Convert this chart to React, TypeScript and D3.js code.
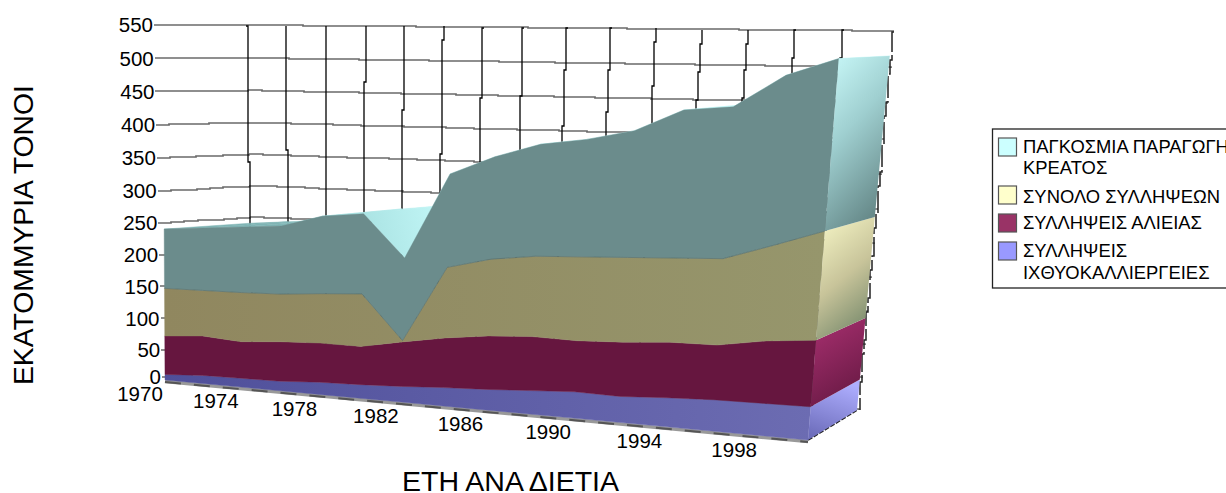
import React from "react";
import * as d3 from "d3";

// Two-yearly catches and meat production, millions of tonnes (stacked from the bottom up)
const years = [1970, 1972, 1974, 1976, 1978, 1980, 1982, 1984, 1986, 1988, 1990, 1992, 1994, 1996, 1998, 2000];
const aquaculture = [9, 13, 14, 15, 19, 21, 24, 28, 31, 35, 39, 38, 42, 45, 46, 47];
const fisheries = [62, 63, 58, 62, 61, 59, 68, 75, 80, 80, 75, 79, 80, 78, 88, 93];
const totalCatch = [76, 72, 77, 74, 76, 80, 2, 105, 113, 117, 121, 121, 119, 121, 132, 149];
const meat = [93, 97, 101, 104, 117, 120, 124, 136, 147, 159, 165, 176, 203, 206, 227, 227];

const yearLabels = [1970, 1974, 1978, 1982, 1986, 1990, 1994, 1998];
const valueTicks = [0, 50, 100, 150, 200, 250, 300, 350, 400, 450, 500, 550];
const gridValues = [250, 300, 350, 400, 450, 500, 550, 200, 150, 100, 50, 0];

const seriesKeys = ["aquaculture", "fisheries", "totalCatch", "meat"];
const legendRows = [
  { lines: ["ΠΑΓΚΟΣΜΙΑ ΠΑΡΑΓΩΓΗ", "ΚΡΕΑΤΟΣ"], swatch: "#ccffff", top: 138, textY: [146, 167] },
  { lines: ["ΣΥΝΟΛΟ ΣΥΛΛΗΨΕΩΝ"], swatch: "#ffffcc", top: 186, textY: [196] },
  { lines: ["ΣΥΛΛΗΨΕΙΣ ΑΛΙΕΙΑΣ"], swatch: "#993366", top: 214, textY: [222] },
  { lines: ["ΣΥΛΛΗΨΕΙΣ", "ΙΧΘΥΟΚΑΛΛΙΕΡΓΕΙΕΣ"], swatch: "#9999ff", top: 242, textY: [250, 272] },
];

const FONT = "'Liberation Sans', Arial, sans-serif";
const VMAX = 550;

type Pt = [number, number];

// Perspective map of the unit square onto a quad given as [bottom-left, bottom-right, top-right, top-left].
function planeMap([p0, p1, p2, p3]: Pt[]) {
  const dx1 = p1[0] - p2[0], dx2 = p3[0] - p2[0], sx = p0[0] - p1[0] + p2[0] - p3[0];
  const dy1 = p1[1] - p2[1], dy2 = p3[1] - p2[1], sy = p0[1] - p1[1] + p2[1] - p3[1];
  const det = dx1 * dy2 - dx2 * dy1;
  const g = (sx * dy2 - dx2 * sy) / det;
  const h = (dx1 * sy - sx * dy1) / det;
  const a = p1[0] - p0[0] + g * p1[0], b = p3[0] - p0[0] + h * p3[0], c = p0[0];
  const d = p1[1] - p0[1] + g * p1[1], e = p3[1] - p0[1] + h * p3[1], f = p0[1];
  return (u: number, v: number): Pt => {
    const w = g * u + h * v + 1;
    return [(a * u + b * v + c) / w, (d * u + e * v + f) / w];
  };
}

const uScale = d3.scaleLinear().domain([0, years.length - 1]).range([0, 1]);
// The back plane recedes a little more than its outline alone implies
const uBackScale = d3.scaleLinear().domain([0, 3, 7, 11, 15]).range([0, 0.2, 0.455, 0.727, 1]);
const vScale = d3.scaleLinear().domain([0, VMAX]).range([0, 1]);

const frontMap = planeMap([[165, 380], [808, 440], [841, 32], [163, 25]]);
const backMap = planeMap([[252, 368], [857, 410], [892, 31], [247, 25]]);
const front = (i: number, v: number) => frontMap(uScale(i), vScale(v));
const back = (i: number, v: number) => backMap(uBackScale(i), vScale(v));

// The axis labels sit on the near edge of the left wall
const tickY = d3.scaleLinear().domain([0, 50, 300, 550]).range([377, 350, 191, 25]);
const tickX = d3.scaleLinear().domain([0, 550]).range([165, 157]);

const rows = years.map((_, i) => ({
  aquaculture: aquaculture[i],
  fisheries: fisheries[i],
  totalCatch: totalCatch[i],
  meat: meat[i],
}));
const stacked = d3.stack<any>().keys(seriesKeys)(rows);

const poly = d3.line<Pt>().x((p) => p[0]).y((p) => p[1]);
const stepLine = d3.line<Pt>().x((p) => p[0]).y((p) => p[1]).curve(d3.curveStepAfter);

// Rasterised grid line: sampled along its length and snapped, which leaves small jogs
function jagged(a: Pt, b: Pt, snap: number) {
  const n = Math.max(2, Math.round(Math.hypot(b[0] - a[0], b[1] - a[1]) / 14));
  const pts = d3.range(n + 1).map((k): Pt => {
    const t = k / n;
    const x = a[0] + (b[0] - a[0]) * t;
    const y = a[1] + (b[1] - a[1]) * t;
    return [Math.round(x / snap) * snap, Math.round(y / snap) * snap];
  });
  return stepLine(pts) as string;
}

const frontStyle = [
  { fill: "url(#fPurple)" },
  { fill: "#66163f" },
  { fill: "url(#fKhaki)" },
  { fill: "#6b8c8c" },
];
const sideStyle = ["url(#sPurple)", "url(#sMaroon)", "url(#sKhaki)", "url(#sTeal)"];

export default function App() {
  const n = years.length;
  const topLayer = stacked[stacked.length - 1];
  const strips = d3.range(n - 1).map((i) => [
    front(i, topLayer[i][1]),
    front(i + 1, topLayer[i + 1][1]),
    back(i + 1, topLayer[i + 1][1]),
    back(i, topLayer[i][1]),
  ] as Pt[]);

  return (
    <svg width={1226} height={493} style={{ position: "absolute", left: 0, top: 0, display: "block", background: "#fff" }} fontFamily={FONT}>
      <defs>
        <linearGradient id="topGrad" gradientUnits="userSpaceOnUse" x1="430" y1="200" x2="280" y2="235">
          <stop offset="0" stopColor="#bff4f4" />
          <stop offset="0.55" stopColor="#a6e0e0" />
          <stop offset="1" stopColor="#7fb4b4" />
        </linearGradient>
        <linearGradient id="fPurple" x1="0" x2="1" y1="0" y2="0">
          <stop offset="0" stopColor="#4f4f9a" />
          <stop offset="1" stopColor="#6c6cb2" />
        </linearGradient>
        <linearGradient id="fKhaki" x1="0" x2="1" y1="0" y2="0">
          <stop offset="0" stopColor="#90875f" />
          <stop offset="1" stopColor="#96966c" />
        </linearGradient>
        <linearGradient id="sTeal" x1="0.1" y1="0" x2="0.5" y2="1">
          <stop offset="0" stopColor="#c8f8f8" />
          <stop offset="0.45" stopColor="#9fcfd0" />
          <stop offset="1" stopColor="#678a8a" />
        </linearGradient>
        <linearGradient id="sKhaki" x1="0.1" y1="0" x2="0.5" y2="1">
          <stop offset="0" stopColor="#f6f6c6" />
          <stop offset="0.55" stopColor="#c8c49a" />
          <stop offset="1" stopColor="#7f8f70" />
        </linearGradient>
        <linearGradient id="sMaroon" x1="0.1" y1="0" x2="0.5" y2="1">
          <stop offset="0" stopColor="#a83070" />
          <stop offset="1" stopColor="#6a1a45" />
        </linearGradient>
        <linearGradient id="sPurple" x1="0.6" y1="0" x2="0.3" y2="1">
          <stop offset="0" stopColor="#aeaeff" />
          <stop offset="1" stopColor="#6d6dbb" />
        </linearGradient>
      </defs>

      {/* Left wall and back wall grid */}
      <g fill="none" stroke="#6a6a6a" strokeWidth={1.7}>
        {gridValues.map((v) => {
          const corner = back(0, v);
          const rightEnd = back(n - 1, v);
          return (
            <g key={v}>
              <path d={jagged([tickX(v) - 3, tickY(v)], corner, 1)} />
              <path d={jagged(corner, [rightEnd[0] + 2, rightEnd[1]], 1)} />
            </g>
          );
        })}
      </g>
      <g fill="none" stroke="#000" strokeWidth={1.3}>
        {d3.range(0, n - 1).map((i) => (
          <path key={i} d={jagged(back(i, 550), back(i, 0), 2)} />
        ))}
      </g>
      {/* Right edge of the back wall */}
      <path
        d={jagged([back(n - 1, 550)[0] + 2, back(n - 1, 550)[1]], [back(n - 1, 0)[0] + 2, back(n - 1, 0)[1]], 2)}
        fill="none" stroke="#222" strokeWidth={1.5} strokeDasharray="22 3"
      />

      {/* Upper surface of the top band, seen where it rises towards the back */}
      {strips.map((s, i) => (
        <path key={i} d={(poly(s) as string) + "Z"} fill="url(#topGrad)" stroke="url(#topGrad)" strokeWidth={0.5} />
      ))}

      {/* Floor edges */}
      <path d={poly([front(0, 0), front(n - 1, 0)].map((p): Pt => [p[0], p[1] + 1.5])) as string} stroke="#999" strokeWidth={3.5} fill="none" />
      <path d={poly([front(0, 0), front(n - 1, 0)].map((p): Pt => [p[0], p[1] + 2])) as string} stroke="#555" strokeWidth={2} fill="none" strokeDasharray="16 13" />
      <path d={poly([front(n - 1, 0), back(n - 1, 0)]) as string} stroke="#222" strokeWidth={2} fill="none" strokeDasharray="5 1.5" />

      {/* Front faces of the stacked bands */}
      {stacked.map((layer, k) => {
        const upper = layer.map((d, i) => front(i, d[1]));
        const lower = layer.map((d, i) => front(i, d[0])).reverse();
        return (
          <path key={k} d={(poly([...upper, ...lower]) as string) + "Z"} fill={frontStyle[k].fill} stroke={frontStyle[k].fill} strokeWidth={0.4} />
        );
      })}
      {/* Seam between the catch total and the meat band */}
      <path d={poly(stacked[2].map((d, i) => front(i, d[1]))) as string} fill="none" stroke="#4f6460" strokeWidth={0.7} opacity={0.7} />

      {/* Right-hand end faces */}
      {stacked.map((layer, k) => {
        const d = layer[n - 1];
        const q: Pt[] = [front(n - 1, d[0]), back(n - 1, d[0]), back(n - 1, d[1]), front(n - 1, d[1])];
        return <path key={k} d={(poly(q) as string) + "Z"} fill={sideStyle[k]} />;
      })}

      {/* Value axis */}
      <g fontSize={20.5} fill="#000" textAnchor="end">
        {valueTicks.map((v) => (
          <text key={v} x={tickX(v) - 4} y={tickY(v)} dy="0.36em">{v}</text>
        ))}
      </g>
      {/* Year axis */}
      <g fontSize={20.5} fill="#000" textAnchor="middle">
        {yearLabels.map((y) => {
          const p = front(years.indexOf(y), 0);
          return <text key={y} x={p[0] - 25} y={p[1] + 14} dy="0.36em">{y}</text>;
        })}
      </g>

      <text x={402} y={491} fontSize={28.5} fill="#000">ΕΤΗ ΑΝΑ ΔΙΕΤΙΑ</text>
      <text transform="translate(33,385) rotate(-90)" fontSize={28.3} fill="#000">ΕΚΑΤΟΜΜΥΡΙΑ ΤΟΝΟΙ</text>

      {/* Legend, running off the right-hand side */}
      <rect x={992.5} y={129} width={260} height={159} fill="#fff" stroke="#222" strokeWidth={1.3} />
      {legendRows.map((row) => (
        <g key={row.lines[0]}>
          <rect x={998.5} y={row.top} width={18} height={18} fill={row.swatch} stroke="#555" strokeWidth={1.2} />
          {row.lines.map((line, j) => (
            <text key={line} x={1023} y={row.textY[j]} dy="0.36em" fontSize={18.4} fill="#000">{line}</text>
          ))}
        </g>
      ))}
    </svg>
  );
}
